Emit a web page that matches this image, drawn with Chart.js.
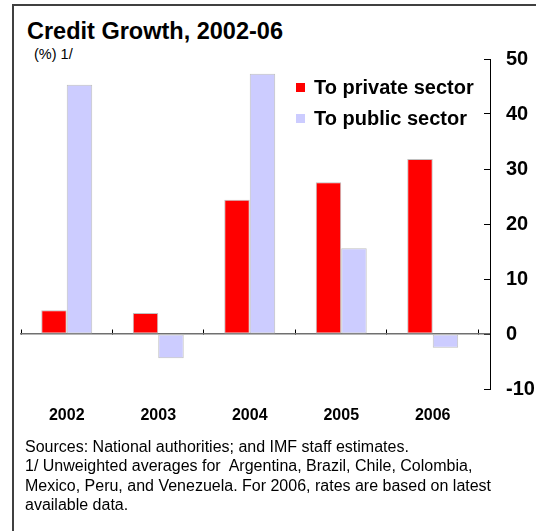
<!DOCTYPE html>
<html>
<head>
<meta charset="utf-8">
<title>Credit Growth, 2002-06</title>
<script src="https://cdn.jsdelivr.net/npm/chart.js@4"></script>
<style>
    html, body { margin: 0; padding: 0; background: #fff; }
    body { width: 536px; height: 531px; position: relative; overflow: hidden;
           font-family: "Liberation Sans", Arial, sans-serif; color: #000; }
    .frame { position: absolute; left: 12px; top: 4px; width: 600px; height: 600px;
             border-left: 2px solid #404040; border-top: 2px solid #404040; }
    .title { position: absolute; left: 27px; top: 19px; font-size: 23.5px; font-weight: bold; line-height: 24px; }
    .subtitle { position: absolute; left: 34px; top: 47px; font-size: 14.5px; line-height: 14px; }
    #chart { position: absolute; left: 0; top: 0; }
    .legend { position: absolute; left: 296px; top: 72px; }
    .legend-item { display: flex; align-items: center; height: 31px; font-size: 20px; font-weight: bold; }
    .legend-box { width: 9px; height: 9px; margin-right: 9px; }
    .notes { position: absolute; left: 25px; top: 437px; font-size: 16px; line-height: 19.3px; white-space: pre; }
</style>
</head>
<body>
<div class="frame"></div>
<div class="title">Credit Growth, 2002-06</div>
<div class="subtitle">(%) 1/</div>
<canvas id="chart" width="536" height="531"></canvas>
<div class="legend" id="legend"></div>
<div class="notes">Sources: National authorities; and IMF staff estimates.
1/ Unweighted averages for  Argentina, Brazil, Chile, Colombia,
Mexico, Peru, and Venezuela. For 2006, rates are based on latest
available data.</div>
<script>
const years = ['2002', '2003', '2004', '2005', '2006'];
const privateSector = [4.3, 3.8, 24.4, 27.6, 31.8];
const publicSector = [45.3, -4.4, 47.3, 15.6, -2.5];
const seriesNames = ['To private sector', 'To public sector'];
const seriesColors = ['#ff0000', '#ccccff'];
const yTicks = [-10, 0, 10, 20, 30, 40, 50];

// years sit at 0..4 on a linear x scale so the value axis can stand a bit right of the last year
const X_MIN = -0.5;
const X_MAX = 4.626;
const yearTicks = (scale) => { scale.ticks = years.map((y, i) => ({ value: i })); };

const toPoints = (values) => values.map((v, i) => ({ x: i, y: v }));

const datasets = [privateSector, publicSector].map((values, i) => ({
    label: seriesNames[i],
    data: toPoints(values),
    backgroundColor: seriesColors[i],
    borderColor: '#c0c0c0',
    borderWidth: 1,
    borderSkipped: false,
    barPercentage: 1,
    categoryPercentage: 0.557,
    xAxisID: 'x',
    yAxisID: 'y'
}));

const chart = new Chart(document.getElementById('chart').getContext('2d'), {
    type: 'bar',
    data: { datasets },
    options: {
        responsive: false,
        animation: false,
        devicePixelRatio: 1,
        layout: { padding: { left: 21, top: 59, right: 0, bottom: 97 } },
        plugins: { legend: { display: false }, tooltip: { enabled: false } },
        scales: {
            // zero line with the small year separators
            x: {
                type: 'linear',
                position: { y: 0 },
                min: X_MIN,
                max: X_MAX,
                offset: false,
                afterBuildTicks: yearTicks,
                ticks: { display: false },
                grid: { offset: true, drawOnChartArea: false, drawTicks: true, tickLength: -5, color: '#000', lineWidth: 1 },
                border: { display: true, color: '#707070', width: 1.5 }
            },
            // year labels under the plot
            years: {
                type: 'linear',
                position: 'bottom',
                min: X_MIN,
                max: X_MAX,
                offset: false,
                afterBuildTicks: yearTicks,
                afterFit: (scale) => { scale.height = 45; },
                ticks: {
                    autoSkip: false,
                    maxRotation: 0,
                    padding: 17,
                    color: '#000',
                    font: { family: '"Liberation Sans", Arial, sans-serif', size: 16, weight: 'bold' },
                    callback: (value) => years[value]
                },
                grid: { display: false, drawTicks: false },
                border: { display: false }
            },
            y: {
                type: 'linear',
                position: 'right',
                min: -10,
                max: 50,
                afterBuildTicks: (scale) => { scale.ticks = yTicks.map(v => ({ value: v })); },
                afterFit: (scale) => { scale.width = 46; },
                ticks: {
                    padding: 22,
                    color: '#000',
                    font: { family: '"Liberation Sans", Arial, sans-serif', size: 20, weight: 'bold' }
                },
                grid: { drawOnChartArea: false, drawTicks: true, tickLength: -6, color: '#000', lineWidth: 1 },
                border: { display: true, color: '#000', width: 1 }
            }
        }
    }
});

// legend built from the datasets
const legend = document.getElementById('legend');
chart.data.datasets.forEach((ds) => {
    const item = document.createElement('div');
    item.className = 'legend-item';
    const box = document.createElement('span');
    box.className = 'legend-box';
    box.style.background = ds.backgroundColor;
    const text = document.createElement('span');
    text.textContent = ds.label;
    item.appendChild(box);
    item.appendChild(text);
    legend.appendChild(item);
});
</script>
</body>
</html>
